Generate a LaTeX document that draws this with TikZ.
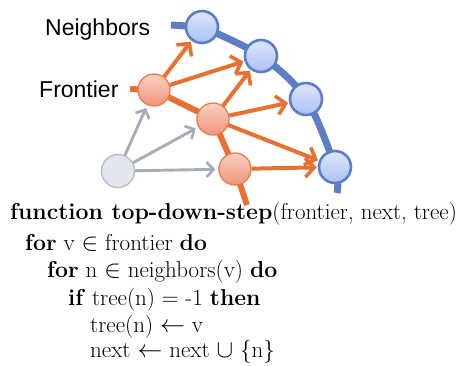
\documentclass[tikz,border=0pt]{standalone}
\usepackage{fontspec}
\newfontfamily\labelfont{Liberation Sans}
\usetikzlibrary{arrows.meta,backgrounds}
\definecolor{orline}{RGB}{232,112,48}
\definecolor{orborder}{RGB}{236,124,66}
\definecolor{ortop}{RGB}{249,208,194}
\definecolor{orbot}{RGB}{238,150,122}
\definecolor{blline}{RGB}{92,126,196}
\definecolor{bltop}{RGB}{222,230,252}
\definecolor{blbot}{RGB}{172,192,242}
\definecolor{grfill}{RGB}{228,230,238}
\definecolor{grborder}{RGB}{182,186,200}
\definecolor{grarrow}{RGB}{168,172,186}
\tikzset{
  nbnode/.style={circle,minimum size=32pt,inner sep=0pt,draw=blline,line width=2.6pt,top color=bltop,bottom color=blbot},
  frnode/.style={circle,minimum size=32pt,inner sep=0pt,draw=orborder,line width=1.3pt,top color=ortop,bottom color=orbot},
  grnode/.style={circle,minimum size=33pt,inner sep=0pt,draw=grborder,line width=1.3pt,fill=grfill},
  orarrow/.style={draw=orline,line width=4pt,-{Straight Barb[length=9pt,width=19pt,line width=3.6pt]},shorten >=1pt},
  grayarrow/.style={draw=grarrow,line width=2.9pt,-{Straight Barb[length=7pt,width=15pt,line width=2.7pt]},shorten >=3pt},
  lbl/.style={font=\labelfont\fontsize{23}{26}\selectfont,anchor=base west,inner sep=0pt},
  code/.style={font=\fontsize{23}{27}\selectfont,anchor=base west,inner sep=0pt}
}
\begin{document}
\begin{tikzpicture}[x=1pt,y=-1pt]
\useasboundingbox (0,0) rectangle (456,365);
% nodes
\node[nbnode] (N1) at (202,27) {};
\node[nbnode] (N2) at (261,56) {};
\node[nbnode] (N3) at (306,99) {};
\node[nbnode] (N4) at (335,167) {};
\node[frnode] (F1) at (154,90) {};
\node[frnode] (F2) at (213,119) {};
\node[frnode] (F3) at (235,169) {};
\node[grnode] (G) at (118,171) {};
\coordinate (bs) at (171,25);
\coordinate (be) at (337,193);
\coordinate (os) at (130,89);
\coordinate (oe) at (247,205);
\begin{scope}[on background layer]
\draw[blline,line width=7pt] (bs) -- (N1.center);
\draw[blline,line width=7pt] plot[smooth,tension=0.55] coordinates {(N1.center) (N2.center) (N3.center) (N4.center) (be)};
\draw[orline,line width=6pt] (os) -- (F1.center) -- (F2.center) -- (F3.center) -- (oe);
\end{scope}
% arrows
\draw[orarrow] (F1) -- (N1);
\draw[orarrow] (F1) -- (N2);
\draw[orarrow] (F2) -- (N2);
\draw[orarrow] (F2) -- (N3);
\draw[orarrow] (F2) -- (N4);
\draw[orarrow] (F3) -- (N4);
\draw[grayarrow] (G) -- (F1);
\draw[grayarrow] (G) -- (F2);
\draw[grayarrow] (G) -- (F3);
% labels
\node[lbl] (ln) at (45,35) {Neighbors};
\node[lbl] (lf) at (39,97) {Frontier};
% code
\node[code] (c1) at (10,219) {\textbf{function top-down-step}(frontier, next, tree)};
\node[code] (c2) at (25,250) {\textbf{for} v $\in$ frontier \textbf{do}};
\node[code] (c3) at (47,277) {\textbf{for} n $\in$ neighbors(v) \textbf{do}};
\node[code] (c4) at (68,305) {\textbf{if} tree(n) = -1 \textbf{then}};
\node[code] (c5) at (90,332) {tree(n) $\leftarrow$ v};
\node[code] (c6) at (90,357) {next $\leftarrow$ next $\cup$ \{n\}};
\end{tikzpicture}
\end{document}
